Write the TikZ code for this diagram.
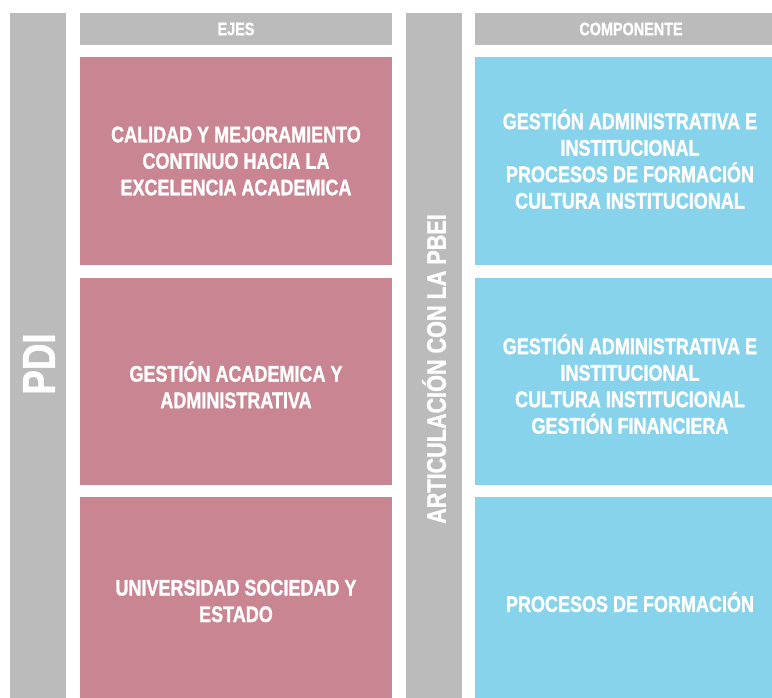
\documentclass[tikz,border=0pt]{standalone}
\usepackage{fontspec}
\setmainfont[FakeStretch=0.8, BoldFeatures={FakeBold=1.2}]{Liberation Sans}

\definecolor{barGray}{HTML}{BBBBBB}
\definecolor{ejePink}{HTML}{C98592}
\definecolor{compBlue}{HTML}{87D3EC}

\tikzset{
  headtext/.style={text=white, font=\bfseries\fontsize{18}{20}\selectfont},
  boxtext/.style={text=white, align=center, font=\bfseries\fontsize{22.5}{26.5}\selectfont},
  bartext/.style={text=white, rotate=90, font=\bfseries},
}

\begin{document}
\begin{tikzpicture}[x=1pt, y=-1pt]
  \useasboundingbox (0,0) rectangle (772,697);

  %% the two grey bars running down the page
  \fill [barGray] (10,13) rectangle (66,715);
  \fill [barGray] (406,13) rectangle (462,730);

  %% column heads
  \fill [barGray] (80,13) rectangle (392,45);
  \fill [barGray] (475,13) rectangle (786,45);

  %% ejes (pink) and componentes (blue), cut off at the right and bottom
  \fill [ejePink] (80,57) rectangle (392,265);
  \fill [ejePink] (80,278) rectangle (392,485);
  \fill [ejePink] (80,497) rectangle (392,706);
  \fill [compBlue] (475,57) rectangle (786,265);
  \fill [compBlue] (475,278) rectangle (786,485);
  \fill [compBlue] (475,497) rectangle (786,706);

  \node [headtext] (ejes) at (236,29) {EJES};
  \node [headtext] (componente) at (631,29) {COMPONENTE};

  \node [bartext, font=\bfseries\fontsize{46}{50}\selectfont] (pdi) at (39,364) {PDI};
  \node [bartext, font=\bfseries\fontsize{27}{30}\selectfont] (articulacion) at (434,369) {ARTICULACIÓN CON LA PBEI};

  \node [boxtext] (eje1) at (236,161) {CALIDAD Y MEJORAMIENTO\\CONTINUO HACIA LA\\EXCELENCIA ACADEMICA};
  \node [boxtext] (eje2) at (236,385) {GESTIÓN ACADEMICA Y\\ADMINISTRATIVA};
  \node [boxtext] (eje3) at (236,601) {UNIVERSIDAD SOCIEDAD Y\\ESTADO};

  \node [boxtext] (comp1) at (630,159) {GESTIÓN ADMINISTRATIVA E\\INSTITUCIONAL\\PROCESOS DE FORMACIÓN\\CULTURA INSTITUCIONAL};
  \node [boxtext] (comp2) at (630,384) {GESTIÓN ADMINISTRATIVA E\\INSTITUCIONAL\\CULTURA INSTITUCIONAL\\GESTIÓN FINANCIERA};
  \node [boxtext] (comp3) at (630,602) {PROCESOS DE FORMACIÓN};
\end{tikzpicture}
\end{document}
